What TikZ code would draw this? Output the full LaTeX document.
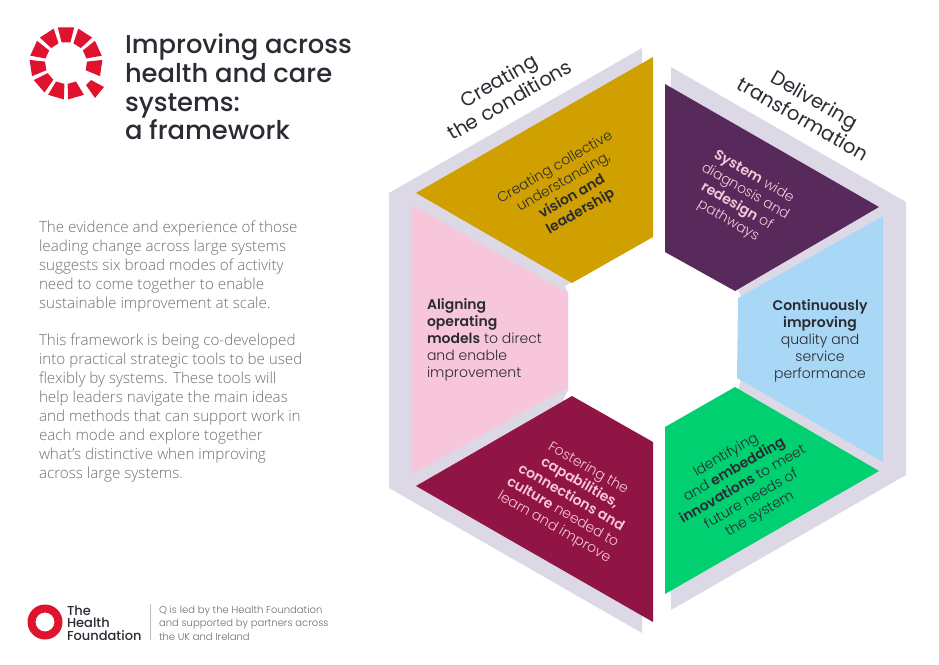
\documentclass[tikz,border=0pt]{standalone}
\usepackage{fontspec}
\setmainfont{Poppins}[UprightFont=* Light,BoldFont=* SemiBold]
\newfontfamily\titlefont{Poppins}[UprightFont=* Medium]
\newfontfamily\headfont{Poppins}
\newfontfamily\bodyfont{Open Sans}[UprightFont=* Light]
\definecolor{hgrey}{HTML}{DDD8E6}
\definecolor{hgold}{HTML}{CFA000}
\definecolor{hpurple}{HTML}{582A5B}
\definecolor{hblue}{HTML}{A9D8F7}
\definecolor{hgreen}{HTML}{00D06F}
\definecolor{hcrimson}{HTML}{901545}
\definecolor{hpink}{HTML}{F7C6DA}
\definecolor{hred}{HTML}{E0132F}
\definecolor{hink}{HTML}{2B2B33}
\definecolor{hbody}{HTML}{6E6E72}
\tikzset{
 x=1pt,y=-1pt,
 every node/.style={inner sep=0pt,outer sep=0pt},
 segtext/.style={align=center,font=\fontsize{14}{17}\selectfont},
 headtext/.style={align=center,font=\headfont\fontsize{19.6}{22.5}\selectfont,text=hink},
 bodytext/.style={anchor=north west,align=left,text=hbody,font=\bodyfont\fontsize{15.2}{19}\selectfont},
 logoseg/.style={fill=hred,draw=none}
}
\begin{document}
\begin{tikzpicture}
\useasboundingbox (0,0) rectangle (939,664);
% hexagon backing
\fill[hgrey] (642,48)--(389,193)--(389,488)--(642,633)--(642,440)--(563,400)--(568,390)--(568,293)--(565,286)--(642,240)--cycle;
\fill[hgrey] (671,67)--(906,202)--(906,475)--(671,610)--(671,580)--(740,384)--(745,340)--(740,293)--(733,285)--(671,240)--cycle;
% segments
\fill[hgold] (653,57)--(653,237)--(572,283)--(416,193)--cycle;
\fill[hpink] (412,205)--(568,293)--(568,387)--(412,474)--cycle;
\fill[hcrimson] (572,396)--(653,442)--(653,622)--(416,486)--cycle;
\fill[hpurple] (665,84)--(879,207)--(735,291)--(665,252)--cycle;
\fill[hblue] (883,216)--(738,298)--(737,378)--(883,462)--cycle;
\fill[hgreen] (735,387)--(879,471)--(665,594)--(665,427)--cycle;
% logo
\foreach \a in {90,57.27,24.55,-8.18,-73.64,-106.36,-139.09,-171.82,155.45,122.73}{
 \fill[logoseg] ([shift={(-\a-13:36.5)}]66,63) -- ([shift={(-\a+13:36.5)}]66,63) -- ([shift={(-\a+12:21)}]66,63) -- ([shift={(-\a-12:21)}]66,63) -- cycle;
}
\fill[logoseg] (91,80)--(104,87)--(95,98)--(86,85)--cycle;
% footer logo
\fill[hred,even odd rule] (45,622) circle[radius=17.5] (45,622) circle[radius=9.5];
\draw[hgrey!70!gray,line width=0.7pt] (150,604)--(150,640);
% texts
\node[anchor=north west,align=left,text=hink,font=\titlefont\fontsize{25.8}{28.7}\selectfont] (title) at (125,34) {Improving across\\health and care\\systems:\\a framework};
\node[bodytext] (p1) at (39,220.5) {The evidence and experience of those\\leading change across large systems\\suggests six broad modes of activity\\need to come together to enable\\sustainable improvement at scale.};
\node[bodytext] (p2) at (39,334) {This framework is being co-developed\\into practical strategic tools to be used\\flexibly by systems. These tools will\\help leaders navigate the main ideas\\and methods that can support work in\\each mode and explore together\\what’s distinctive when improving\\across large systems.};
\node[headtext,rotate=-30] (hright) at (809,109) {Delivering\\transformation};
\node[headtext,rotate=30] (hleft) at (504,90) {Creating\\the conditions};
\node[segtext,rotate=30,text=hink] (tgold) at (568,190) {Creating collective\\understanding,\\\textbf{vision and}\\\textbf{leadership}};
\node[segtext,rotate=-30,text=hpink] (tpurple) at (741,199) {\textbf{System} wide\\diagnosis and\\\textbf{redesign} of\\pathways};
\node[segtext,text=hink] (tblue) at (820,341) {\textbf{Continuously}\\\textbf{improving}\\quality and\\service\\performance};
\node[segtext,rotate=30,text=hink] (tgreen) at (743,485) {Identifying\\and \textbf{embedding}\\\textbf{innovations} to meet\\future needs of\\the system};
\node[segtext,rotate=-30,text=hpink] (tcrimson) at (571,498) {Fostering the\\\textbf{capabilities,}\\\textbf{connections and}\\\textbf{culture} needed to\\learn and improve};
\node[segtext,anchor=west,align=left,text=hink] (tpink) at (427,340) {\textbf{Aligning}\\\textbf{operating}\\\textbf{models} to direct\\and enable\\improvement};
\node[anchor=north west,align=left,text=hink,font=\titlefont\fontsize{13}{12.7}\selectfont] (hf) at (67,605.5) {The\\Health\\Foundation};
\node[anchor=north west,align=left,text=hbody,font=\fontsize{10}{13.5}\selectfont] (q) at (159,605.5) {Q is led by the Health Foundation\\and supported by partners across\\the UK and Ireland};
\end{tikzpicture}
\end{document}
